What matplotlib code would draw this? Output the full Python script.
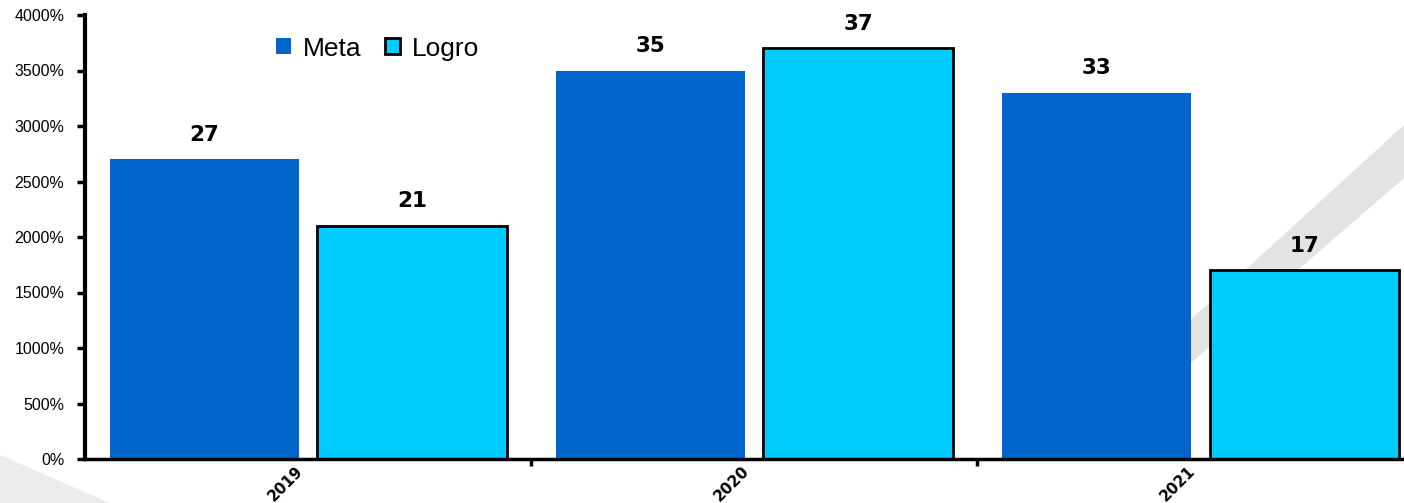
import numpy as np
import matplotlib.pyplot as plt
from matplotlib.patches import Polygon

years = ['2019', '2020', '2021']
meta = [27, 35, 33]
logro = [21, 37, 17]
y_ticks = [0, 500, 1000, 1500, 2000, 2500, 3000, 3500, 4000]
y_labels = ['0%', '500%', '1000%', '1500%', '2000%', '2500%', '3000%', '3500%', '4000%']

meta_color = '#0066CC'
logro_color = '#00CCFF'

fig = plt.figure(figsize=(14.04, 5.03), dpi=100)

# soft grey swoosh in the background
bg = fig.add_axes([0, 0, 1, 1], zorder=0)
bg.set_xlim(0, 1404)
bg.set_ylim(503, 0)
bg.axis('off')
bg.add_patch(Polygon([[1038, 459], [1404, 125], [1404, 178], [1080, 459]],
                     closed=True, color='#e3e3e3', lw=0))
bg.add_patch(Polygon([[0, 455], [110, 503], [0, 503]],
                     closed=True, color='#ececec', lw=0))

ax = fig.add_axes([85/1404, 1 - 459/503, 1 - 85/1404, (459 - 15)/503], zorder=1)
ax.patch.set_alpha(0)

x = np.arange(len(years))
w = 0.424
off = 0.233
vals_m = [v * 100 for v in meta]
vals_l = [v * 100 for v in logro]
b1 = ax.bar(x - off, vals_m, w, color=meta_color, label='Meta', zorder=2)
b2 = ax.bar(x + off, vals_l, w, color=logro_color, edgecolor='black',
            linewidth=2, label='Logro', zorder=2)

for bars, vals in ((b1, meta), (b2, logro)):
    for r, v in zip(bars, vals):
        ax.text(r.get_x() + r.get_width() / 2, v * 100 + 130, str(v),
                ha='center', va='bottom', fontsize=15.5, fontweight='bold',
                family='DejaVu Sans')

ax.set_xlim(-0.5, 2.457)
ax.set_ylim(0, 4000)
ax.set_yticks(y_ticks)
ax.set_yticklabels(y_labels, fontsize=11.5, family='Liberation Sans')
ax.tick_params(axis='y', direction='out', length=6, width=2.5, pad=9)

ax.set_xticks([0.5, 1.5])
ax.set_xticklabels([])
ax.tick_params(axis='x', direction='out', length=5, width=2.5)
for xi, yr in zip(x, years):
    ax.text(xi - 0.005, -40, yr, rotation=45, ha='right', va='top',
            fontsize=11, fontweight='bold', family='DejaVu Sans',
            clip_on=False)

ax.spines['top'].set_visible(False)
ax.spines['right'].set_visible(False)
ax.spines['left'].set_linewidth(3)
ax.spines['bottom'].set_linewidth(2.5)

leg = ax.legend(loc='upper left', bbox_to_anchor=(0.127, 1.005), ncol=2,
                frameon=False, handlelength=0.55, handleheight=0.55,
                handletextpad=0.45, columnspacing=0.9,
                prop={'family': 'Liberation Sans', 'size': 19})

fig.savefig('out.png', dpi=100)
